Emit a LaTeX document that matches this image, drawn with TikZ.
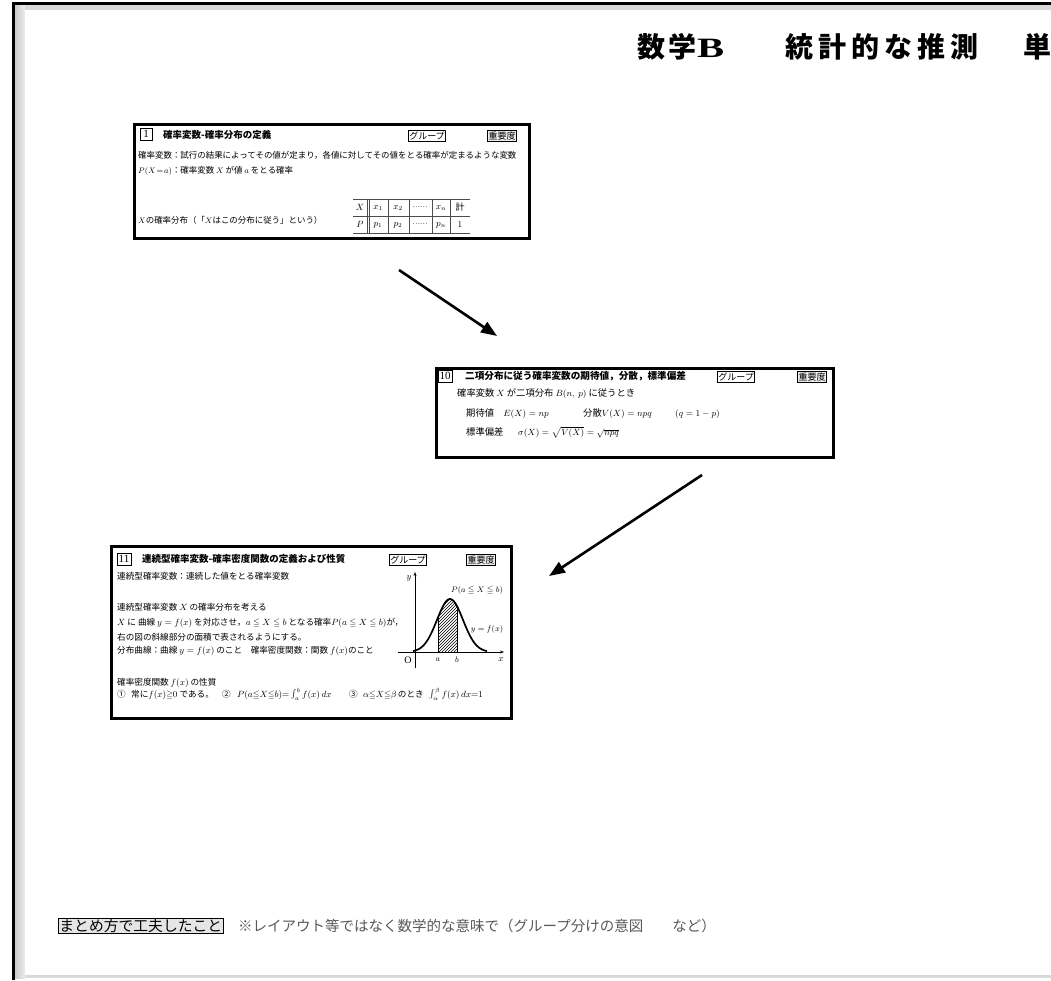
\documentclass[tikz,border=0pt]{standalone}
\usepackage{amsmath,amssymb}
\usepackage{graphicx}
\usepackage{fontspec}
\setmainfont{Noto Sans CJK JP}
\newfontfamily\lat{Liberation Serif}
\usetikzlibrary{arrows.meta,patterns}
\newcommand\fsz[1]{\fontsize{#1}{#1}\selectfont}
\newcommand\tch[2]{\makebox[#1pt][l]{#2}}
\begin{document}
\begin{tikzpicture}[x=1pt,y=-1pt,
  card/.style={draw,line width=2.6pt,inner sep=0pt,anchor=north west},
  numbox/.style={draw,line width=0.5pt,inner sep=0.5pt,minimum width=12pt,minimum height=12pt,font=\lat\fsz{11}},
  tag/.style={draw,line width=0.6pt,inner sep=1pt,minimum height=11pt,font=\fsz{9}},
  tagg/.style={tag,fill=gray!15},
  txt/.style={anchor=base west,inner sep=0pt},
  ta/.style={txt,font=\fsz{8.45}},
  tb/.style={txt,font=\fsz{9.3}},
  tc/.style={txt,font=\fsz{8.6}},
  cell/.style={inner sep=0pt,font=\fsz{9}},
  tl/.style={line width=0.5pt,black!70},
  arrowline/.style={line width=2.6pt,-{Triangle[length=16pt,width=12pt]}},
  bell/.style={line width=1.7pt}]
\useasboundingbox (0,0) rectangle (1051,980);
% page frame
\fill[gray!30] (13,5) rectangle (1051,978);
\shade[left color=gray!45,right color=gray!15] (13,5) rectangle (25,978);
\fill[white] (25,10) rectangle (1051,975);
\draw[line width=3pt] (1051,3.5) -- (13,3.5) -- (13,980);
% title
\node[anchor=base west,inner sep=0pt,font=\fsz{28}\bfseries] (title) at (637,57)
  {\tch{31}{数}\tch{29}{学}\tch{88}{\scalebox{1.45}[1]{\lat\bfseries B}}\tch{33}{統}\tch{33}{計}\tch{33}{的}\tch{33}{な}\tch{33}{推}\tch{73}{測}単};

% ---------- box 1 ----------
\node[card,minimum width=395pt,minimum height=114pt] (b1) at (133,123) {};
\node[numbox] (n1) at (146,134) {1};
\node[txt,font=\fsz{9.5}\bfseries] (t1) at (163,138) {確率変数-確率分布の定義};
\node[tag] (g1) at (427,136) {グループ};
\node[tagg] (i1) at (502,136) {重要度};
\node[ta] (l11) at (138,158) {確率変数：試行の結果によってその値が定まり，各値に対してその値をとる確率が定まるような変数};
\node[ta] (l12) at (138,173) {$P(X\!=\!a)$：確率変数 $X$ が値 $a$ をとる確率};
\node[ta] (l13) at (138,223) {$X$の確率分布（「$X$はこの分布に従う」という）};
% table
\draw[tl] (353,199) -- (470,199) (353,216) -- (470,216) (353,233) -- (470,233);
\draw[tl] (367,199) -- (367,233) (369.5,199) -- (369.5,233) (388,199) -- (388,233)
  (409,199) -- (409,233) (432,199) -- (432,233) (450,199) -- (450,233);
\node[cell] (c11) at (360,207.5) {$X$};
\node[cell] (c12) at (378,208) {$x_1$};
\node[cell] (c13) at (398,208) {$x_2$};
\node[cell,font=\fsz{7}] (c14) at (420,207.5) {……};
\node[cell] (c15) at (441,208) {$x_n$};
\node[cell] (c16) at (460,207.5) {計};
\node[cell] (c21) at (360,224.5) {$P$};
\node[cell] (c22) at (378,225) {$p_1$};
\node[cell] (c23) at (398,225) {$p_2$};
\node[cell,font=\fsz{7}] (c24) at (420,224.5) {……};
\node[cell] (c25) at (441,225) {$p_n$};
\node[cell] (c26) at (460,224.5) {$1$};

% ---------- box 10 ----------
\node[card,minimum width=397pt,minimum height=89pt] (b10) at (435,367) {};
\node[numbox,minimum width=14pt] (n10) at (445,376) {10};
\node[txt,font=\fsz{9.6}\bfseries] (t10) at (465,379.5) {二項分布に従う確率変数の期待値，分散，標準偏差};
\node[tag] (g10) at (736,377) {グループ};
\node[tagg] (i10) at (812,377) {重要度};
\node[tb] (l101) at (457,396.5) {確率変数 $X$ が二項分布 $B(n,\ p)$ に従うとき};
\node[tb] (l102) at (466,416) {期待値\quad $E(X)=np$};
\node[tb] (l103) at (583,416) {分散$V(X)=npq$};
\node[tb] (l104) at (675,416) {$(q=1-p)$};
\node[tb] (l105) at (466,435.5) {標準偏差};
\node[tb] (l106) at (518,435.5) {$\sigma(X)=\sqrt{V(X)}=\sqrt{npq}$};

% ---------- box 11 ----------
\node[card,minimum width=400pt,minimum height=172pt] (b11) at (110,545) {};
\node[numbox,minimum width=14pt] (n11) at (124,559) {11};
\node[txt,font=\fsz{9.5}\bfseries] (t11) at (142,562.5) {連続型確率変数-確率密度関数の定義および性質};
\node[tag] (g11) at (408,560) {グループ};
\node[tagg] (i11) at (481,560) {重要度};
\node[tc] (l111) at (117,579) {連続型確率変数：連続した値をとる確率変数};
\node[tc] (l112) at (117,610) {連続型確率変数 $X$ の確率分布を考える};
\node[tc] (l113) at (117,625) {$X$ に 曲線 $y=f(x)$ を対応させ，$a\leqq X\leqq b$ となる確率$P(a\leqq X\leqq b)$が，};
\node[tc] (l114) at (117,640) {右の図の斜線部分の面積で表されるようにする。};
\node[tc] (l115) at (117,653) {分布曲線：曲線 $y=f(x)$ のこと\quad 確率密度関数：関数 $f(x)$のこと};
\node[tc] (l116) at (117,685) {確率密度関数 $f(x)$ の性質};
\node[tc] (l117) at (117,697) {①};
\node[tc] (l118) at (131,697) {常に$f(x){\geqq}0$ である。};
\node[tc] (l119) at (222,697) {②};
\node[tc] (l120) at (237,697) {$P(a{\leqq}X{\leqq}b){=}\int_a^b f(x)\,dx$};
\node[tc] (l121) at (349,697) {③};
\node[tc] (l122) at (363,697) {$\alpha{\leqq}X{\leqq}\beta$\,のとき};
\node[tc] (l123) at (429,697) {$\int_\alpha^\beta f(x)\,dx{=}1$};
% graph
\fill[pattern=north east lines] (438,652) -- plot[domain=438:457,samples=20] (\x,{652-53*exp(-((\x-450)^2)/338)}) -- (457,652) -- cycle;
\draw[line width=0.5pt] (438,652) -- (438,{652-53*exp(-144/338)});
\draw[line width=0.5pt] (457,652) -- (457,{652-53*exp(-49/338)});
\draw[line width=0.6pt,-{Stealth[length=4pt,width=3pt]}] (398,652) -- (504,652);
\draw[line width=0.6pt,-{Stealth[length=4pt,width=3pt]}] (415,668) -- (415,572);
\draw[bell] plot[domain=413:487,samples=80] (\x,{652-53*exp(-((\x-450)^2)/338)});
\node[font=\lat\fsz{10}] (o) at (408,660) {O};
\node[font=\fsz{9}] (ly) at (409,578) {$y$};
\node[font=\fsz{9}] (lx) at (501,660) {$x$};
\node[font=\fsz{8.5}] (la) at (438,660) {$a$};
\node[font=\fsz{8.5}] (lb) at (457,660) {$b$};
\node[font=\fsz{8.5}] (lp) at (477,590) {$P(a\leqq X\leqq b)$};
\node[font=\fsz{8.5}] (lf) at (487,629) {$y=f(x)$};

% ---------- arrows ----------
\coordinate (a1s) at (399,270);
\coordinate (a1e) at (497,336);
\coordinate (a2s) at (702,475);
\coordinate (a2e) at (549,576);
\draw[arrowline] (a1s) -- (a1e);
\draw[arrowline] (a2s) -- (a2e);

% ---------- note ----------
\node[draw,fill=gray!20,line width=0.8pt,inner sep=1pt,anchor=west,font=\fsz{14.8}] (note) at (58,926) {まとめ方で工夫したこと};
\node[anchor=west,inner sep=0pt,text=black!65,font=\fsz{14.5}] (notetxt) at (238,926) {※レイアウト等ではなく数学的な意味で（グループ分けの意図　　など）};
\end{tikzpicture}
\end{document}
